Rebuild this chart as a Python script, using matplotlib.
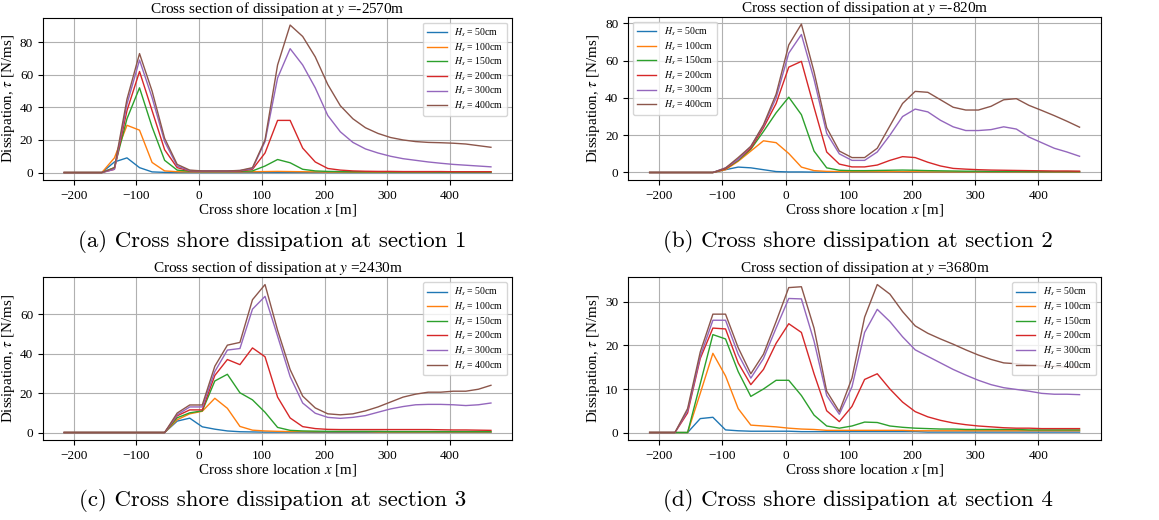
#!/usr/bin/env python3
"""Cross shore dissipation at four sections, for several wave heights."""

import matplotlib
matplotlib.use('Agg')
import matplotlib.pyplot as plt

plt.rcParams['font.family'] = 'serif'
plt.rcParams['font.serif'] = ['Liberation Serif', 'DejaVu Serif']
plt.rcParams['mathtext.fontset'] = 'stix'

# cross shore grid [m]
x = [-215, -195, -175, -155, -135, -115, -95, -75, -55, -35, -15, 5, 25, 45,
     65, 85, 105, 125, 145, 165, 185, 205, 225, 245, 265, 285, 305, 325, 345,
     365, 385, 405, 425, 445, 465]

labels = [r'$H_s$ = 50cm', r'$H_s$ = 100cm', r'$H_s$ = 150cm',
          r'$H_s$ = 200cm', r'$H_s$ = 300cm', r'$H_s$ = 400cm']

# section 1, y = -2570 m
s1_h50 = [0, 0, 0, 0, 6.5, 9, 3, 0.4, 0.1, 0, 0, 0, 0, 0, 0, 0, 0, 0, 0, 0,
          0, 0, 0, 0, 0, 0, 0, 0, 0, 0, 0, 0, 0, 0, 0]
s1_h100 = [0, 0, 0, 0, 9, 29, 26, 6.2, 1, 0.5, 0.4, 0.4, 0.4, 0.4, 0.4, 0.5,
           0.6, 0.7, 0.6, 0.5, 0.4, 0.3, 0.3, 0.3, 0.3, 0.3, 0.3, 0.3, 0.3,
           0.3, 0.3, 0.3, 0.3, 0.3, 0.3]
s1_h150 = [0, 0, 0, 0, 3, 33, 52, 28, 7.5, 1.5, 0.8, 0.7, 0.7, 0.7, 0.7, 1, 4,
           8, 6, 2, 1, 0.7, 0.6, 0.5, 0.5, 0.5, 0.4, 0.4, 0.4, 0.4, 0.3, 0.3,
           0.3, 0.3, 0.3]
s1_h200 = [0, 0, 0, 0, 2, 38, 62, 38, 14, 3, 1, 0.8, 0.8, 0.8, 0.9, 2, 12, 32,
           32, 15, 6.5, 2.5, 1.5, 1, 0.8, 0.7, 0.7, 0.6, 0.6, 0.6, 0.6, 0.5,
           0.5, 0.5, 0.5]
s1_h300 = [0, 0, 0, 0, 2, 42, 69, 46, 19, 4, 1.2, 1, 1, 1, 1.2, 2.5, 19, 58,
           76, 66, 52, 35, 25, 18.5, 14.5, 12, 10, 8.5, 7.5, 6.5, 5.7, 5, 4.5,
           4, 3.5]
s1_h400 = [0, 0, 0, 0, 3, 45, 73, 50, 21, 5, 1.5, 1, 1, 1, 1.3, 3, 20, 66,
           90.5, 83.5, 71, 54, 41, 33, 27.5, 24, 21.5, 20, 19, 18.5, 18.3, 18,
           17.5, 16.5, 15.5]

# section 2, y = -820 m
s2_h50 = [0, 0, 0, 0, 0, 0, 1.5, 2.9, 2.5, 1.5, 0.5, 0.3, 0.3, 0.2, 0.2, 0.2,
          0.2, 0.2, 0.2, 0.2, 0.1, 0.1, 0.1, 0.1, 0.1, 0.1, 0.1, 0.1, 0.1,
          0.1, 0.1, 0.1, 0.1, 0.1, 0.1]
s2_h100 = [0, 0, 0, 0, 0, 0, 1.5, 6, 11.5, 17, 16, 10.2, 2.9, 1, 0.6, 0.5,
           0.4, 0.4, 0.4, 0.4, 0.4, 0.4, 0.3, 0.3, 0.3, 0.3, 0.3, 0.3, 0.3,
           0.3, 0.3, 0.3, 0.3, 0.3, 0.3]
s2_h150 = [0, 0, 0, 0, 0, 0, 2, 6.5, 12.5, 22, 32, 40.4, 31, 11.5, 2.5, 1.2,
           1, 1, 1.1, 1.2, 1.3, 1.2, 1, 0.9, 0.8, 0.7, 0.7, 0.6, 0.6, 0.6,
           0.5, 0.5, 0.5, 0.5, 0.5]
s2_h200 = [0, 0, 0, 0, 0, 0, 2, 7, 13, 24, 37, 56.5, 59.6, 35, 11, 4.5, 3, 3,
           4, 6.5, 8.5, 8, 5.5, 3.5, 2.2, 1.8, 1.5, 1.3, 1.2, 1.1, 1, 0.9,
           0.8, 0.8, 0.7]
s2_h300 = [0, 0, 0, 0, 0, 0, 2.5, 7, 14, 25, 40, 64, 74, 50, 21, 10, 6.5, 6.5,
           11, 20, 30, 34, 32.5, 28, 24.5, 22.5, 22.5, 23, 24.5, 23.3, 19, 16,
           13, 11, 8.7]
s2_h400 = [0, 0, 0, 0, 0, 0, 2.4, 8, 14, 25.6, 42, 68.4, 79.6, 54, 24, 11.5,
           8, 8, 13, 25, 37, 43.5, 43, 39, 35, 33.5, 33.5, 35.5, 39, 39.6, 36,
           33.3, 30.5, 27.5, 24.3]

# section 3, y = 2430 m
s3_h50 = [0, 0, 0, 0, 0, 0, 0, 0, 0, 5.8, 7.3, 2.9, 1.7, 0.8, 0.4, 0.3, 0.2,
          0.2, 0.2, 0.2, 0.1, 0.1, 0.1, 0.1, 0.1, 0.1, 0.1, 0.1, 0.1, 0.1,
          0.1, 0.1, 0.1, 0.1, 0.1]
s3_h100 = [0, 0, 0, 0, 0, 0, 0, 0, 0, 6.5, 9.5, 10.8, 17.4, 12.3, 3.1, 1.2,
           0.8, 0.6, 0.5, 0.5, 0.4, 0.4, 0.4, 0.4, 0.4, 0.3, 0.3, 0.3, 0.3,
           0.3, 0.3, 0.3, 0.3, 0.3, 0.3]
s3_h150 = [0, 0, 0, 0, 0, 0, 0, 0, 0, 7.5, 10, 11, 26.2, 29.6, 20.2, 16.6,
           10.3, 2.6, 1.1, 0.8, 0.7, 0.6, 0.6, 0.6, 0.6, 0.6, 0.5, 0.5, 0.5,
           0.5, 0.5, 0.5, 0.5, 0.5, 0.5]
s3_h200 = [0, 0, 0, 0, 0, 0, 0, 0, 0, 8.5, 11.5, 11.5, 29, 37.1, 34.5, 43,
           38.5, 18, 7.4, 3, 2, 1.6, 1.5, 1.5, 1.5, 1.5, 1.5, 1.5, 1.5, 1.5,
           1.4, 1.3, 1.3, 1.2, 1.1]
s3_h300 = [0, 0, 0, 0, 0, 0, 0, 0, 0, 9, 13, 13, 31, 41.9, 42.7, 62.7, 69.2,
           49, 28.4, 15, 9.8, 7.7, 7.2, 7.7, 8.6, 10.3, 12, 13.2, 14.1, 14.3,
           14.3, 14.1, 13.7, 14.1, 15]
s3_h400 = [0, 0, 0, 0, 0, 0, 0, 0, 0, 9.9, 14, 14, 33.7, 44.4, 45.8, 67.5,
           75.2, 52, 32, 18.5, 12.5, 9.5, 9, 9.5, 11, 13, 15.5, 18, 19.5, 20.5,
           20.5, 21, 21, 22, 24]

# section 4, y = 3680 m
s4_h50 = [0, 0, 0, 0, 3.2, 3.5, 0.6, 0.4, 0.3, 0.3, 0.3, 0.3, 0.2, 0.2, 0.2,
          0.2, 0.2, 0.2, 0.2, 0.2, 0.2, 0.2, 0.1, 0.1, 0.1, 0.1, 0.1, 0.1,
          0.1, 0.1, 0.1, 0.1, 0.1, 0.1, 0.1]
s4_h100 = [0, 0, 0, 0, 9, 18.2, 13, 5.5, 1.7, 1.5, 1.3, 1.0, 0.8, 0.7, 0.5,
           0.5, 0.5, 0.5, 0.5, 0.5, 0.5, 0.4, 0.4, 0.4, 0.4, 0.4, 0.4, 0.4,
           0.4, 0.4, 0.4, 0.4, 0.4, 0.4, 0.4]
s4_h150 = [0, 0, 0, 0, 11.2, 22.5, 21.5, 14, 8.3, 10, 12, 12, 8.5, 4, 1.5, 1,
           1.5, 2.4, 2.3, 1.5, 1.2, 1, 0.9, 0.8, 0.8, 0.7, 0.7, 0.7, 0.7, 0.7,
           0.6, 0.6, 0.6, 0.6, 0.6]
s4_h200 = [0, 0, 0, 4.5, 17, 24, 23.8, 16, 11, 14.5, 20.5, 25, 23, 13.5, 5,
           2.5, 6, 12.2, 13.5, 10, 7, 4.8, 3.6, 2.8, 2.2, 1.8, 1.5, 1.3, 1.1,
           1.0, 1.0, 0.9, 0.9, 0.9, 0.9]
s4_h300 = [0, 0, 0, 5, 17.5, 25.8, 25.8, 18, 12.5, 17, 24, 30.8, 30.7, 21,
           8.5, 4.2, 10.5, 23, 28.3, 25.5, 22, 19, 17.5, 16, 14.5, 13.2, 12,
           11, 10.3, 9.9, 9.5, 9, 8.8, 8.8, 8.7]
s4_h400 = [0, 0, 0, 5.5, 18.5, 27.2, 27.2, 19.5, 13.5, 18, 25.5, 33.3, 33.5,
           24, 9.5, 4.8, 12.5, 26.5, 34, 31.8, 27.8, 24.5, 22.8, 21.5, 20.3,
           19, 17.8, 16.8, 16, 15.8, 15.5, 15.3, 15.2, 15, 15]

sections = [
    ('-2570', [s1_h50, s1_h100, s1_h150, s1_h200, s1_h300, s1_h400]),
    ('-820', [s2_h50, s2_h100, s2_h150, s2_h200, s2_h300, s2_h400]),
    ('2430', [s3_h50, s3_h100, s3_h150, s3_h200, s3_h300, s3_h400]),
    ('3680', [s4_h50, s4_h100, s4_h150, s4_h200, s4_h300, s4_h400]),
]
captions = ['(a) Cross shore dissipation at section 1',
            '(b) Cross shore dissipation at section 2',
            '(c) Cross shore dissipation at section 3',
            '(d) Cross shore dissipation at section 4']
legend_loc = ['upper right', 'upper left', 'upper right', 'upper right']

# axes boxes [left, bottom, width, height] in figure fractions
boxes = [[0.037, 0.654, 0.405, 0.312],
         [0.542, 0.654, 0.408, 0.314],
         [0.037, 0.154, 0.405, 0.313],
         [0.542, 0.154, 0.408, 0.313]]
cap_pos = [(0.235, 0.536), (0.740, 0.536), (0.235, 0.038), (0.740, 0.038)]

fig = plt.figure(figsize=(11.59, 5.2), dpi=100)

for i, (yloc, series) in enumerate(sections):
    ax = fig.add_axes(boxes[i])
    for vals, lab in zip(series, labels):
        ax.plot(x, vals, lw=1.0, label=lab)
    ax.set_title(f'Cross section of dissipation at $y$ ={yloc}m', fontsize=11,
                 pad=3)
    ax.set_xlabel(r'Cross shore location $x$ [m]', fontsize=10.8, labelpad=0)
    ax.set_ylabel(r'Dissipation, $\tau$ [N/ms]', fontsize=10.8, labelpad=2)
    ax.set_xticks([-200, -100, 0, 100, 200, 300, 400])
    ax.tick_params(labelsize=9.5)
    ax.grid(True)
    ax.legend(loc=legend_loc[i], fontsize=7, labelspacing=0.22)
    # caption under each panel, LaTeX document style
    fig.text(cap_pos[i][0], cap_pos[i][1], captions[i], fontsize=16.5,
             family='cmr10', ha='center', va='center')

fig.savefig('out.png', dpi=100)
